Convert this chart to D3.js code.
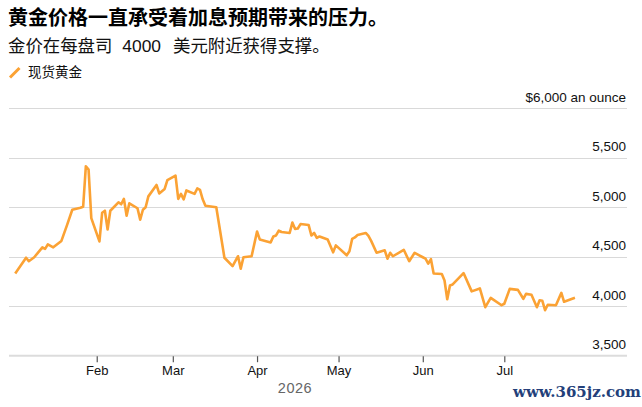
<!doctype html>
<html>
<head>
<meta charset="utf-8"/>
<title>Gold</title>
<script src="https://d3js.org/d3.v7.min.js"></script>
<style>
body { margin: 0; background: #fff; }
svg text { font-family: "Liberation Sans", "Noto Sans CJK SC", sans-serif; }
</style>
</head>
<body>
<svg id="chart"></svg>
<script>
// spot gold
const dates = [
    '2026-01-02', '2026-01-06', '2026-01-07', '2026-01-09', '2026-01-12', '2026-01-13', '2026-01-14',
    '2026-01-16', '2026-01-19', '2026-01-21', '2026-01-23', '2026-01-26', '2026-01-27', '2026-01-28',
    '2026-01-29', '2026-01-30', '2026-02-02', '2026-02-03', '2026-02-04', '2026-02-05', '2026-02-06',
    '2026-02-09', '2026-02-10', '2026-02-11', '2026-02-12', '2026-02-13', '2026-02-16', '2026-02-17',
    '2026-02-18', '2026-02-19', '2026-02-20', '2026-02-23', '2026-02-24', '2026-02-26', '2026-02-27',
    '2026-03-02', '2026-03-03', '2026-03-04', '2026-03-05', '2026-03-06', '2026-03-09', '2026-03-10',
    '2026-03-11', '2026-03-12', '2026-03-13', '2026-03-17', '2026-03-20', '2026-03-23', '2026-03-25',
    '2026-03-26', '2026-03-27', '2026-03-30', '2026-04-01', '2026-04-02', '2026-04-06', '2026-04-07',
    '2026-04-08', '2026-04-09', '2026-04-10', '2026-04-13', '2026-04-14', '2026-04-15', '2026-04-16',
    '2026-04-17', '2026-04-20', '2026-04-21', '2026-04-22', '2026-04-23', '2026-04-24', '2026-04-27',
    '2026-04-29', '2026-04-30', '2026-05-04', '2026-05-05', '2026-05-06', '2026-05-07', '2026-05-08',
    '2026-05-11', '2026-05-12', '2026-05-13', '2026-05-15', '2026-05-18', '2026-05-19', '2026-05-20',
    '2026-05-21', '2026-05-25', '2026-05-27', '2026-05-29', '2026-06-01', '2026-06-02', '2026-06-03',
    '2026-06-04', '2026-06-05', '2026-06-08', '2026-06-09', '2026-06-10', '2026-06-11', '2026-06-12',
    '2026-06-16', '2026-06-19', '2026-06-22', '2026-06-24', '2026-06-26', '2026-06-30', '2026-07-01',
    '2026-07-03', '2026-07-06', '2026-07-08', '2026-07-09', '2026-07-11', '2026-07-13', '2026-07-14',
    '2026-07-15', '2026-07-16', '2026-07-17', '2026-07-20', '2026-07-22', '2026-07-23', '2026-07-27'
]
const prices = [
    4330, 4490, 4455, 4495, 4595, 4580, 4625,
    4595, 4660, 4815, 4975, 4995, 5005, 5415,
    5380, 4890, 4655, 4945, 4965, 4775, 4965,
    5050, 5030, 5085, 4915, 5040, 4990, 4875,
    4975, 5000, 5110, 5225, 5140, 5185, 5275,
    5320, 5085, 5135, 5080, 5170, 5135, 5190,
    5175, 5080, 5015, 5000, 4490, 4405, 4505,
    4380, 4495, 4505, 4755, 4675, 4645, 4705,
    4715, 4765, 4750, 4740, 4845, 4780, 4785,
    4830, 4820, 4715, 4740, 4690, 4705, 4675,
    4545, 4615, 4515, 4555, 4680, 4695, 4720,
    4740, 4710, 4660, 4540, 4565, 4480, 4540,
    4505, 4570, 4455, 4540, 4495, 4480, 4430,
    4475, 4330, 4325, 4260, 4070, 4210, 4220,
    4335, 4150, 4180, 3990, 4085, 4010, 4025,
    4175, 4165, 4075, 4125, 4115, 3990, 4060,
    4055, 3960, 4015, 4010, 4135, 4045, 4085
]
const yTicks = [3500, 4000, 4500, 5000, 5500, 6000]
const monthTicks = ['2026-02-01', '2026-03-01', '2026-04-01', '2026-05-01', '2026-06-01', '2026-07-01']
const title = '黄金价格一直承受着加息预期带来的压力。'
const subtitleParts = ['金价在每盘司', '4000', '美元附近获得支撑。']
const seriesName = '现货黄金'

const width = 642
const height = 407
const gold = '#fba234'

const parse = d3.utcParse('%Y-%m-%d')
const data = dates.map((d, i) => ({date: parse(d), value: prices[i]}))

const svg = d3.select('#chart')
    .attr('width', width)
    .attr('height', height)

// plot area, set by eye
const left = 9, right = 627
const x = d3.scaleUtc()
    .domain([parse('2026-01-01'), parse('2026-07-01')])
    .range([12.5, 504.3])
const y = d3.scaleLinear()
    .domain([3500, 6000])
    .range([355.7, 108.3])

// titles
svg.append('text')
    .attr('x', 8).attr('y', 25)
    .style('font-size', '20px').style('font-weight', 'bold').style('fill', '#000')
    .text(title)
// the spaces round the number are wider in the original
const sub = svg.append('text')
    .attr('x', 8).attr('y', 52)
    .style('font-size', '17.4px').style('fill', '#111')
sub.append('tspan').text(subtitleParts[0])
sub.append('tspan').attr('dx', 10).text(subtitleParts[1])
sub.append('tspan').attr('dx', 12).text(subtitleParts[2])

// legend
svg.append('line')
    .attr('x1', 10).attr('y1', 77.5).attr('x2', 19.5).attr('y2', 68)
    .style('stroke', gold).style('stroke-width', 3)
svg.append('text')
    .attr('x', 28).attr('y', 77)
    .style('font-size', '13.5px').style('fill', '#111')
    .text(seriesName)

// grid
svg.append('g').selectAll('line')
    .data(yTicks.slice(1))
    .join('line')
    .attr('x1', left).attr('x2', right)
    .attr('y1', d => Math.round(y(d)) + 0.5).attr('y2', d => Math.round(y(d)) + 0.5)
    .style('stroke', '#d9d9d9').style('stroke-width', 1)

// baseline
svg.append('line')
    .attr('x1', left).attr('x2', right)
    .attr('y1', y(3500)).attr('y2', y(3500))
    .style('stroke', '#dcdcdc').style('stroke-width', 2)

// y labels
svg.append('g').selectAll('text')
    .data(yTicks)
    .join('text')
    .attr('x', right - 1)
    .attr('y', d => y(d) - 6.5)
    .attr('text-anchor', 'end')
    .style('font-size', '13.5px').style('fill', '#111')
    .text(d => d === 6000 ? '$6,000 an ounce' : d3.format(',')(d))

// x axis
const xAxis = d3.axisBottom(x)
    .tickValues(monthTicks.map(parse))
    .tickFormat(d3.utcFormat('%b'))
    .tickSize(6)
    .tickPadding(4)
const gx = svg.append('g')
    .attr('transform', `translate(0,${y(3500) + 0.5})`)
    .call(xAxis)
gx.select('.domain').remove()
gx.selectAll('.tick line').style('stroke', '#555').style('stroke-width', 1.2)
gx.selectAll('.tick text')
    .style('font-size', '13px').style('fill', '#111')
    .style('font-family', '"Liberation Sans", sans-serif')

svg.append('text')
    .attr('x', 295).attr('y', 393)
    .attr('text-anchor', 'middle')
    .style('font-size', '14.5px').style('fill', '#666').style('letter-spacing', '0.5px')
    .text('2026')

// price line
const line = d3.line()
    .x(d => x(d.date))
    .y(d => y(d.value))
svg.append('path')
    .datum(data)
    .attr('d', line)
    .style('fill', 'none')
    .style('stroke', gold)
    .style('stroke-width', 2.6)
    .style('stroke-linejoin', 'round')

// watermark
svg.append('text')
    .attr('x', 641).attr('y', 397)
    .attr('text-anchor', 'end')
    .style('font-family', '"DejaVu Serif", serif')
    .style('font-size', '15px').style('font-weight', 'bold').style('fill', '#23407a')
    .text('www.365jz.com')
</script>
</body>
</html>
